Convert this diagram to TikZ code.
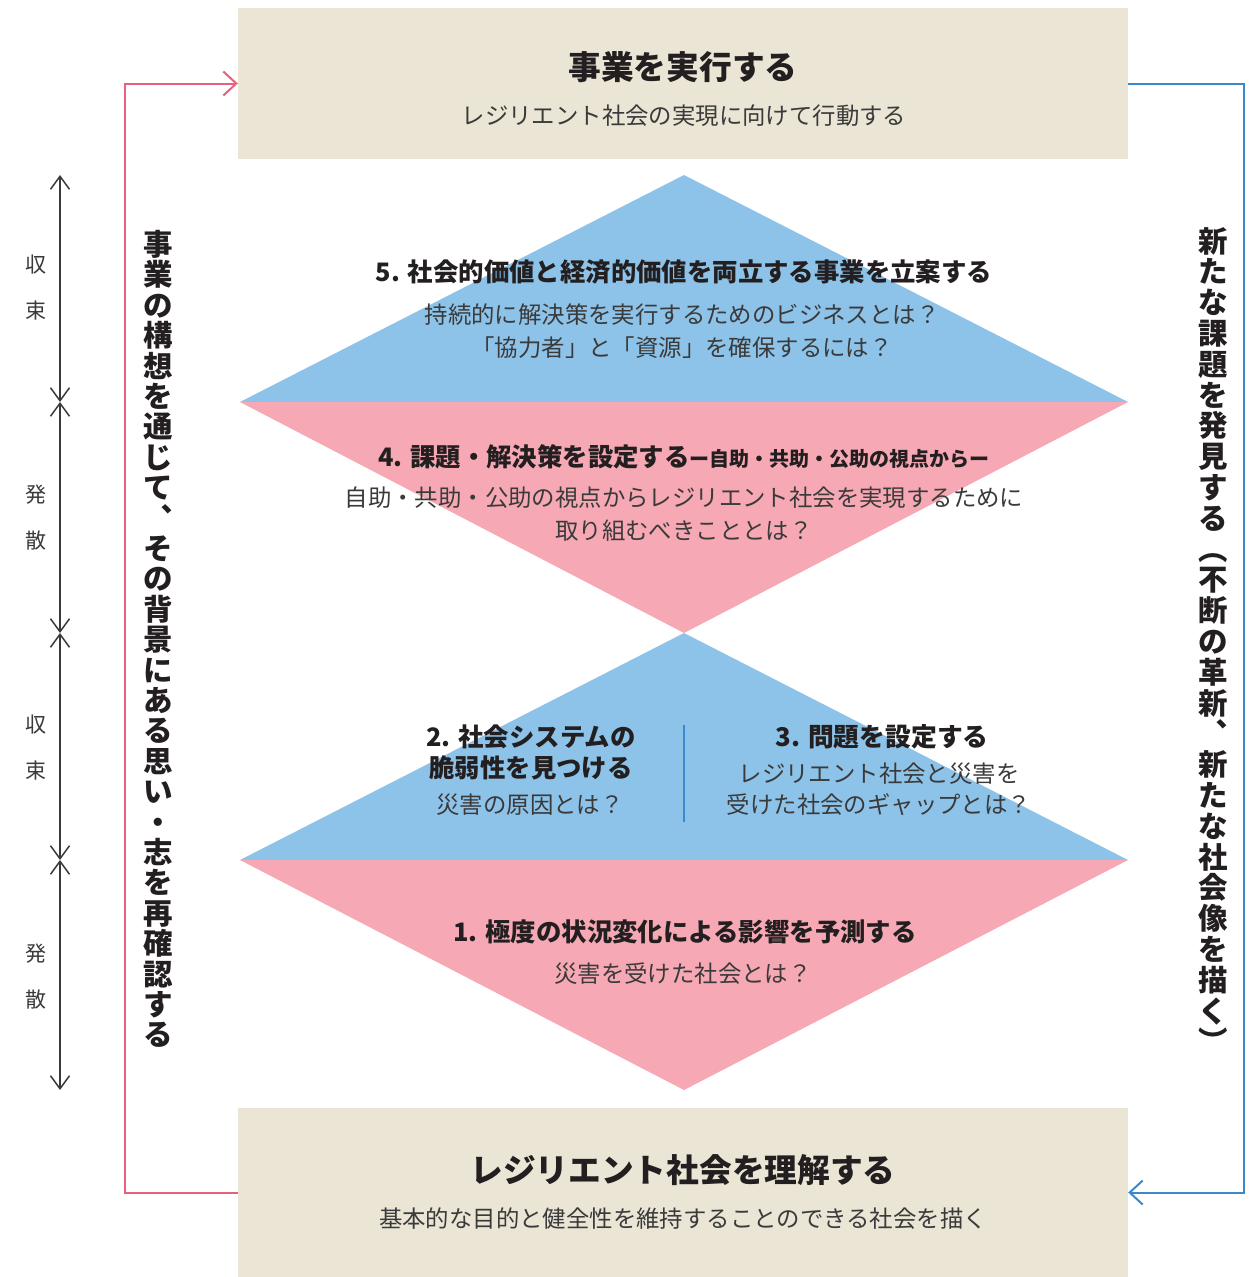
\documentclass[tikz,border=0pt]{standalone}
\usepackage{fontspec}
\usetikzlibrary{arrows.meta}
\newfontfamily\jp{Noto Sans CJK JP}
\definecolor{beige}{HTML}{EBE5D6}
\definecolor{dblue}{HTML}{8EC3E9}
\definecolor{dpink}{HTML}{F6A9B4}
\definecolor{pinkline}{HTML}{E8607F}
\definecolor{blueline}{HTML}{3A89CC}
\definecolor{ink}{HTML}{231F20}
\definecolor{ink2}{HTML}{3A3A3A}
\definecolor{arrowc}{HTML}{3A3A3A}
\begin{document}
\begin{tikzpicture}[x=1pt,y=-1pt,
  box/.style={fill=beige, minimum width=890pt, inner sep=0pt, draw=none},
  bigttl/.style={font=\jp\bfseries\fontsize{32.7}{36}\selectfont, text=ink, inner sep=0pt},
  ttl/.style={font=\jp\bfseries\fontsize{25.4}{31}\selectfont, text=ink, inner sep=0pt, align=center},
  sub/.style={font=\jp\fontsize{23.4}{33}\selectfont, text=ink2, inner sep=0pt, align=center},
  vtxt/.style={font=\jp\bfseries\fontsize{29.5}{30.4}\selectfont, text=ink, inner sep=0pt, align=center},
  lbl/.style={font=\jp\fontsize{21}{46}\selectfont, text=ink2, inner sep=0pt, align=center},
  dbl/.style={draw=arrowc, line width=1.5pt, {Straight Barb[length=13pt,width=19pt]}-{Straight Barb[length=13pt,width=19pt]}},
  loopline/.style={line width=2pt, -{Straight Barb[length=13pt,width=24pt]}}
]
\useasboundingbox (0,0) rectangle (1258,1277);
\fill[white] (0,0) rectangle (1258,1277);

% boxes
\node[box, minimum height=151pt] (top) at (683,83.5) {};
\node[box, minimum height=169pt] (bot) at (683,1192.5) {};
\node[bigttl] (topt) at (683,67) {事業を実行する};
\node[sub] (tops) at (684,116) {レジリエント社会の実現に向けて行動する};
\node[bigttl] (bott) at (683,1170) {レジリエント社会を理解する};
\node[sub] (bots) at (683,1219) {基本的な目的と健全性を維持することのできる社会を描く};

% diamonds
\fill[dblue] (684,175) -- (240,402) -- (1128,402) -- cycle;
\fill[dpink] (240,402) -- (1128,402) -- (684,633) -- cycle;
\fill[dblue] (684,633) -- (240,860) -- (1128,860) -- cycle;
\fill[dpink] (240,860) -- (1128,860) -- (684,1090) -- cycle;

% section 5
\node[ttl] (t5) at (684,272) {5. 社会的価値と経済的価値を両立する事業を立案する};
\node[sub] (s5) at (682,331.5) {持続的に解決策を実行するためのビジネスとは？\\「協力者」と「資源」を確保するには？};
% section 4
\node[ttl] (t4) at (684,457) {4. 課題・解決策を設定する{\fontsize{20}{24}\selectfont ー自助・共助・公助の視点からー}};
\node[sub] (s4) at (684,514.5) {自助・共助・公助の視点からレジリエント社会を実現するために\\取り組むべきこととは？};
% section 2
\node[ttl, font=\jp\bfseries\fontsize{25.4}{31}\selectfont] (t2) at (531,752.5) {2. 社会システムの\\脆弱性を見つける};
\node[sub] (s2) at (530,805) {災害の原因とは？};
% divider
\coordinate (dv1) at (684,725);
\coordinate (dv2) at (684,822);
\draw[blueline, line width=2pt] (dv1) -- (dv2);
% section 3
\node[ttl, font=\jp\bfseries\fontsize{25.8}{31}\selectfont] (t3) at (882,737) {3. 問題を設定する};
\node[sub, font=\jp\fontsize{23.4}{31}\selectfont] (s3) at (879,789.5) {レジリエント社会と災害を\\受けた社会のギャップとは？};
% section 1
\node[ttl] (t1) at (685,932) {1. 極度の状況変化による影響を予測する};
\node[sub] (s1) at (683,974) {災害を受けた社会とは？};

% loops
\draw[pinkline, loopline] (bot.west) -- ++(-113,0) |- (top.west);
\draw[blueline, loopline] (top.east) -- ++(116,0) |- (bot.east);

% vertical texts
\node[vtxt] (lv) at (158,639) {事\\業\\の\\構\\想\\を\\通\\じ\\て\\︑\\そ\\の\\背\\景\\に\\あ\\る\\思\\い\\・\\志\\を\\再\\確\\認\\す\\る};
\node[vtxt, font=\jp\bfseries\fontsize{29.5}{30.8}\selectfont] (rv) at (1213,640) {新\\た\\な\\課\\題\\を\\発\\見\\す\\る\\︵\\不\\断\\の\\革\\新\\︑\\新\\た\\な\\社\\会\\像\\を\\描\\く\\︶};

% left double arrows
\coordinate (a0) at (60,175);
\coordinate (a1) at (60,402);
\coordinate (a2) at (60,633);
\coordinate (a3) at (60,860);
\coordinate (a4) at (60,1090);
\draw[dbl] (a0) -- (a1);
\draw[dbl] (a1) -- (a2);
\draw[dbl] (a2) -- (a3);
\draw[dbl] (a3) -- (a4);
\node[lbl] (l1) at (36,288) {収\\束};
\node[lbl] (l2) at (36,517.5) {発\\散};
\node[lbl] (l3) at (36,747.5) {収\\束};
\node[lbl] (l4) at (36,976.5) {発\\散};
\end{tikzpicture}
\end{document}
